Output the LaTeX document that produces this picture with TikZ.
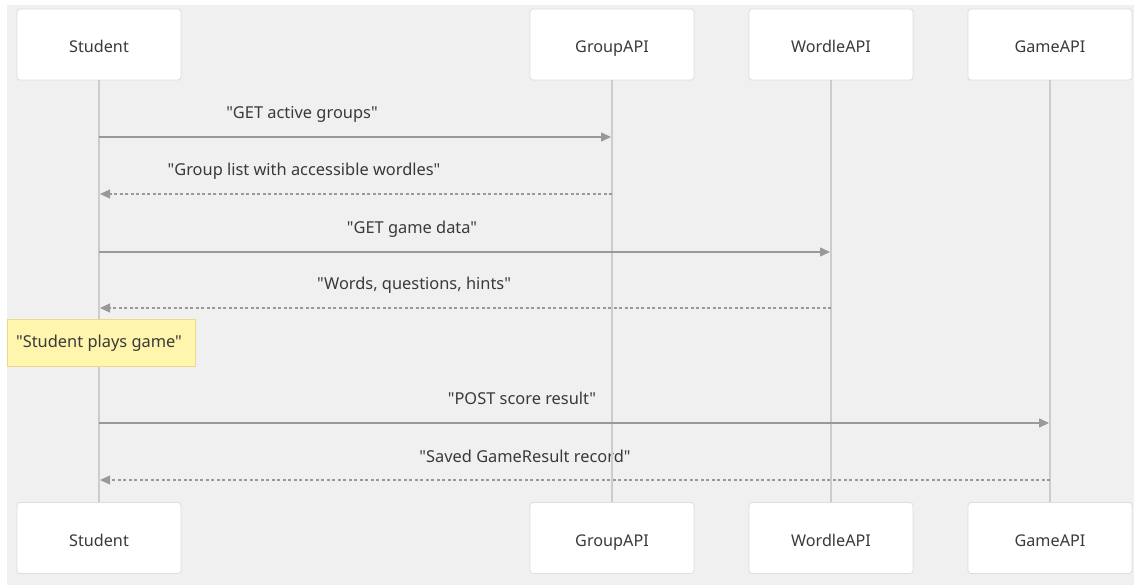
\documentclass[tikz,border=0pt]{standalone}
\usepackage{fontspec}
\setmainfont{Noto Sans}[Ligatures=TeXOff]
\usetikzlibrary{arrows.meta}
\definecolor{canvas}{HTML}{F0F0F0}
\definecolor{boxline}{HTML}{DDDDDD}
\definecolor{lifecol}{HTML}{CCCCCC}
\definecolor{msgcol}{HTML}{999999}
\definecolor{txtcol}{HTML}{3A3A3A}
\definecolor{notefill}{HTML}{FFF5AD}
\definecolor{noteline}{HTML}{EAD98A}
% straight double quotes round a message text
\newcommand\quoted[1]{"#1"}
\tikzset{
  actor/.style={draw=boxline, fill=white, rounded corners=3pt, line width=0.8pt,
    minimum width=164pt, minimum height=71pt, inner sep=0pt},
  actortext/.style={font=\fontsize{16.2}{19}\selectfont, text=txtcol,
    inner sep=0pt, anchor=base},
  lifeline/.style={draw=lifecol, line width=1.6pt},
  msglabel/.style={font=\fontsize{16.4}{19}\selectfont, text=txtcol,
    inner sep=0pt, anchor=base},
  callarrow/.style={draw=msgcol, line width=1.4pt, -{Triangle[length=10pt,width=9pt]}},
  replyarrow/.style={draw=msgcol, line width=1.2pt, dash pattern=on 3pt off 2.5pt,
    -{Triangle[length=10pt,width=9pt]}},
  notebox/.style={draw=noteline, fill=notefill, line width=0.8pt,
    minimum width=188pt, minimum height=47pt, inner sep=0pt},
}
\begin{document}
\begin{tikzpicture}[x=1pt, y=-1pt]
  \useasboundingbox (0,0) rectangle (1134,585);
  \fill[white] (0,0) rectangle (1134,585);
  \fill[canvas] (7,5) rectangle (1134,585);

  % participants, top and bottom
  \node[actor] (stuT) at (99,44.5) {};
  \node[actor] (grpT) at (612,44.5) {};
  \node[actor] (wrdT) at (831,44.5) {};
  \node[actor] (gamT) at (1050,44.5) {};
  \node[actor] (stuB) at (99,538) {};
  \node[actor] (grpB) at (612,538) {};
  \node[actor] (wrdB) at (831,538) {};
  \node[actor] (gamB) at (1050,538) {};
  \node[actortext] (stuTt) at (99,53) {Student};
  \node[actortext] (grpTt) at (612,53) {GroupAPI};
  \node[actortext] (wrdTt) at (831,53) {WordleAPI};
  \node[actortext] (gamTt) at (1050,53) {GameAPI};
  \node[actortext] (stuBt) at (99,546.5) {Student};
  \node[actortext] (grpBt) at (612,546.5) {GroupAPI};
  \node[actortext] (wrdBt) at (831,546.5) {WordleAPI};
  \node[actortext] (gamBt) at (1050,546.5) {GameAPI};

  % message labels
  \node[msglabel] (l1) at (302,118.5) {\quoted{GET active groups}};
  \node[msglabel] (l2) at (304,176) {\quoted{Group list with accessible wordles}};
  \node[msglabel] (l3) at (412,233.5) {\quoted{GET game data}};
  \node[msglabel] (l4) at (414,289.5) {\quoted{Words, questions, hints}};
  \node[msglabel] (l5) at (522,404.5) {\quoted{POST score result}};
  \node[msglabel] (l6) at (525,462) {\quoted{Saved GameResult record}};

  % lifelines
  \draw[lifeline] (stuT.south) -- (stuB.north);
  \draw[lifeline] (grpT.south) -- (grpB.north);
  \draw[lifeline] (wrdT.south) -- (wrdB.north);
  \draw[lifeline] (gamT.south) -- (gamB.north);

  % anchor points on the lifelines
  \coordinate (s1) at (99,137);  \coordinate (g1) at (611,137);
  \coordinate (s2) at (100,194); \coordinate (g2) at (612,194);
  \coordinate (s3) at (99,252);  \coordinate (w3) at (830,252);
  \coordinate (s4) at (100,308); \coordinate (w4) at (831,308);
  \coordinate (s5) at (99,423);  \coordinate (m5) at (1049,423);
  \coordinate (s6) at (100,480); \coordinate (m6) at (1050,480);

  % messages
  \draw[callarrow] (s1) -- (g1);
  \draw[replyarrow] (g2) -- (s2);
  \draw[callarrow] (s3) -- (w3);
  \draw[replyarrow] (w4) -- (s4);
  \draw[callarrow] (s5) -- (m5);
  \draw[replyarrow] (m6) -- (s6);

  % note over Student
  \node[notebox] (note) at (101,342.5) {};
  \node[msglabel] (notet) at (99,347.5) {\quoted{Student plays game}};
\end{tikzpicture}
\end{document}
